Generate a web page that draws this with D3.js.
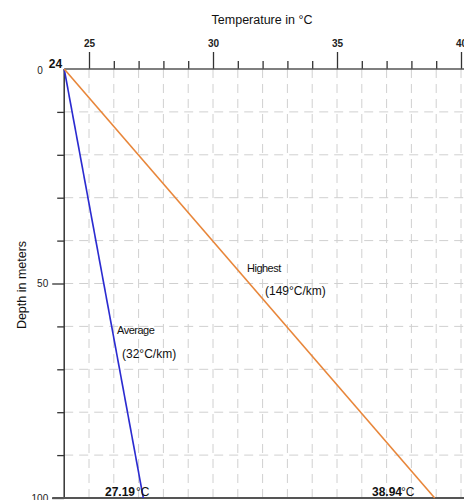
<!DOCTYPE html>
<html><head><meta charset="utf-8">
<script src="https://cdn.jsdelivr.net/npm/d3@7"></script>
<style>body{margin:0;background:#fff}svg{display:block;font-family:"Liberation Sans",Arial,sans-serif}</style>
</head><body><svg id="c" width="464" height="500"></svg>
<script>
const seriesNames = ["Average", "Highest"];
const gradients = ["(32°C/km)", "(149°C/km)"];
const startTemps = [24, 24];
const endTemps = [27.19, 38.94];
const depths = [0, 100];
const colors = ["#2b2bd0", "#e8863a"];
const xMajorTicks = [25, 30, 35, 40];
const xMinorTicks = d3.range(24, 41, 1);
const yMajorTicks = [0, 50, 100];
const yMinorTicks = d3.range(0, 101, 10);

const svg = d3.select("#c");
const x = d3.scaleLinear().domain([24, 40]).range([64.2, 461]);
const y = d3.scaleLinear().domain([0, 100]).range([69, 498]);

// grid
const g = svg.append("g");
g.selectAll(".vg").data(xMinorTicks.filter(d => d > 24)).join("line")
  .attr("x1", d => x(d)).attr("x2", d => x(d)).attr("y1", y(0)).attr("y2", y(100))
  .attr("stroke", "#d0d0d0").attr("stroke-width", 1).attr("stroke-dasharray", "9,6");
g.selectAll(".hg").data(yMinorTicks.filter(d => d > 0 && d < 100)).join("line")
  .attr("x1", x(24)).attr("x2", 464).attr("y1", d => y(d)).attr("y2", d => y(d))
  .attr("stroke", "#d0d0d0").attr("stroke-width", 1).attr("stroke-dasharray", "9,6");

// top axis
const xMinorAxis = d3.axisTop(x).tickValues(xMinorTicks.filter(d => !xMajorTicks.includes(d) && d > 24)).tickSize(8).tickFormat("");
const xMajorAxis = d3.axisTop(x).tickValues(xMajorTicks).tickSize(17).tickPadding(5).tickFormat(d3.format("d"));
const ax1 = svg.append("g").attr("transform", `translate(0,${y(0)})`).call(xMinorAxis);
const ax2 = svg.append("g").attr("transform", `translate(0,${y(0)})`).call(xMajorAxis);
[ax1, ax2].forEach(a => {
  a.select(".domain").remove();
  a.selectAll("line").attr("stroke", "#333").attr("stroke-width", 1.3);
  a.selectAll("text").attr("font-size", 10).attr("font-weight", "bold").attr("fill", "#222").attr("font-family", "Liberation Sans, Arial, sans-serif");
});
svg.append("line").attr("x1", x(24)).attr("x2", 464).attr("y1", y(0)).attr("y2", y(0)).attr("stroke", "#555").attr("stroke-width", 1.5);

// left axis
const yMinorAxis = d3.axisLeft(y).tickValues(yMinorTicks.filter(d => !yMajorTicks.includes(d))).tickSize(7).tickFormat("");
const yMajorAxis = d3.axisLeft(y).tickValues(yMajorTicks.slice(1)).tickSize(12).tickPadding(4).tickFormat(d3.format("d"));
const ay1 = svg.append("g").attr("transform", `translate(${x(24)},0)`).call(yMinorAxis);
const ay2 = svg.append("g").attr("transform", `translate(${x(24)},0)`).call(yMajorAxis);
[ay1, ay2].forEach(a => {
  a.select(".domain").remove();
  a.selectAll("line").attr("stroke", "#333").attr("stroke-width", 1.3);
  a.selectAll("text").attr("font-size", 10).attr("fill", "#222").attr("font-family", "Liberation Sans, Arial, sans-serif");
});
svg.append("line").attr("x1", x(24)).attr("x2", x(24)).attr("y1", y(0)).attr("y2", y(100)).attr("stroke", "#333").attr("stroke-width", 1.5);
svg.append("line").attr("x1", x(24) - 12).attr("x2", 464).attr("y1", y(100)).attr("y2", y(100)).attr("stroke", "#555").attr("stroke-width", 2);

svg.append("text").attr("x", x(24) - 27).attr("y", y(0) + 5).attr("font-size", 10).attr("fill", "#222").text(yMajorTicks[0]);
svg.append("text").attr("x", x(24) - 2).attr("y", y(0) - 1).attr("text-anchor", "end").attr("font-size", 12).attr("font-weight", "bold").attr("fill", "#111").text(startTemps[0]);

// titles
svg.append("text").attr("x", 262).attr("y", 24).attr("text-anchor", "middle").attr("font-size", 12.5).attr("fill", "#111").text("Temperature in °C");
svg.append("text").attr("transform", "translate(26,285) rotate(-90)").attr("text-anchor", "middle").attr("font-size", 12.5).attr("fill", "#111").text("Depth in meters");

// lines
const line = d3.line().x(d => x(d[0])).y(d => y(d[1]));
seriesNames.forEach((n, i) => {
  svg.append("path").datum([[startTemps[i], depths[0]], [endTemps[i], depths[1]]])
    .attr("d", line).attr("fill", "none").attr("stroke", colors[i]).attr("stroke-width", 1.6);
});

// labels
const lab = [
  {name: [117, 334], grad: [122, 358]},
  {name: [247, 272], grad: [265, 295]}
];
seriesNames.forEach((n, i) => {
  svg.append("text").attr("x", lab[i].name[0]).attr("y", lab[i].name[1]).attr("font-size", 11).attr("letter-spacing", "-0.5").attr("fill", "#111").text(n);
  svg.append("text").attr("x", lab[i].grad[0]).attr("y", lab[i].grad[1]).attr("font-size", 12).attr("fill", "#111").text(gradients[i]);
});
const endX = [105, 372];
endTemps.forEach((t, i) => {
  const tx = svg.append("text").attr("x", endX[i]).attr("y", y(100) - 2).attr("fill", "#111").attr("font-size", 12);
  tx.append("tspan").attr("font-weight", "bold").text(d3.format(".2f")(t));
  tx.append("tspan").attr("dx", i === 0 ? 1 : -1).text("°C");
});
</script></body></html>
